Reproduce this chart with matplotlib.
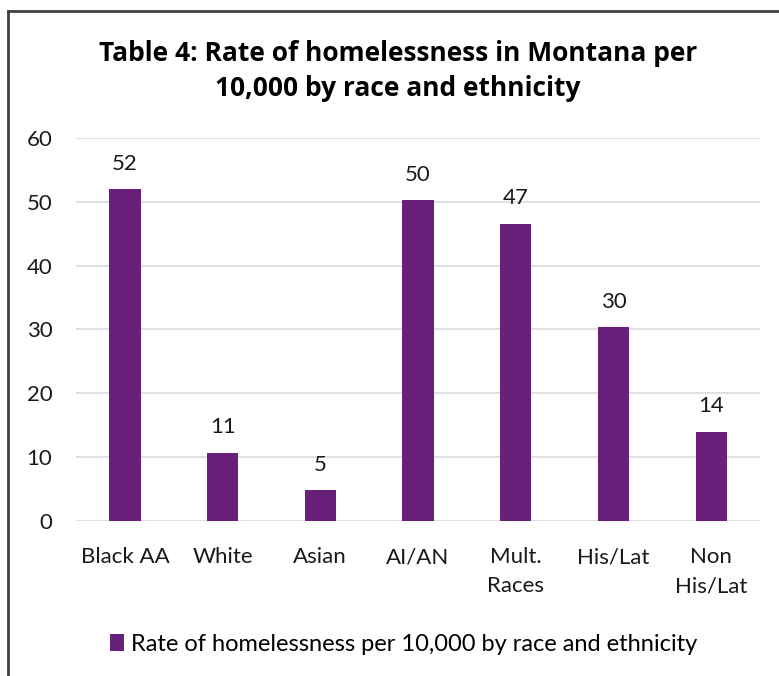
import matplotlib
matplotlib.use('Agg')
import matplotlib.pyplot as plt
from matplotlib.patches import Patch
from matplotlib.lines import Line2D

categories = ['Black AA', 'White', 'Asian', 'AI/AN', 'Mult.\nRaces', 'His/Lat', 'Non\nHis/Lat']
rates = [52.0, 10.7, 4.85, 50.3, 46.6, 30.4, 14.0]
labels = ['52', '11', '5', '50', '47', '30', '14']
yticks = [0, 10, 20, 30, 40, 50, 60]

plt.rcParams['font.family'] = ['Lato', 'DejaVu Sans']
purple = '#68207A'
txt = '#1a1a1a'

fig = plt.figure(figsize=(7.79, 6.76), dpi=100)
ax = fig.add_axes([0.0976, 0.2293, 0.878, 0.5666])

x = range(len(categories))
ax.bar(x, rates, width=0.32, color=purple, zorder=3)
for i, (v, lab) in enumerate(zip(rates, labels)):
    ax.annotate(lab, (i, v), xytext=(0, 11), textcoords='offset points',
                ha='center', va='bottom', fontsize=16, color=txt)

ax.set_xlim(-0.5, len(categories) - 0.5)
ax.set_ylim(0, 60)
ax.set_yticks(yticks)
ax.set_xticks(list(x))
ax.set_xticklabels(categories, fontsize=16, linespacing=1.55, color=txt)
ax.tick_params(axis='y', labelsize=16, length=0, pad=17, labelcolor=txt)
ax.tick_params(axis='x', length=0, pad=19)
ax.grid(axis='y', color='#e0e0e0', linewidth=1.5, zorder=0)
for s in ax.spines.values():
    s.set_visible(False)

fig.text(0.511, 0.895, 'Table 4: Rate of homelessness in Montana per\n10,000 by race and ethnicity',
         ha='center', va='center', fontsize=19, fontweight='bold', linespacing=1.36,
         family=['Open Sans', 'DejaVu Sans'])

handle = Patch(facecolor=purple, edgecolor='none')
fig.legend([handle], ['Rate of homelessness per 10,000 by race and ethnicity'],
           loc='center', bbox_to_anchor=(0.518, 0.047), frameon=False, fontsize=17,
           handlelength=0.6, handleheight=0.7, handletextpad=0.3)

# chart frame (only top and left edges are visible in the crop)
fig.add_artist(Line2D([0.0105, 1.0], [0.9837, 0.9837], color='#404040', linewidth=2,
                      transform=fig.transFigure))
fig.add_artist(Line2D([0.0105, 0.0105], [0.0, 0.9837], color='#404040', linewidth=2,
                      transform=fig.transFigure))

fig.savefig('out.png', dpi=100)
